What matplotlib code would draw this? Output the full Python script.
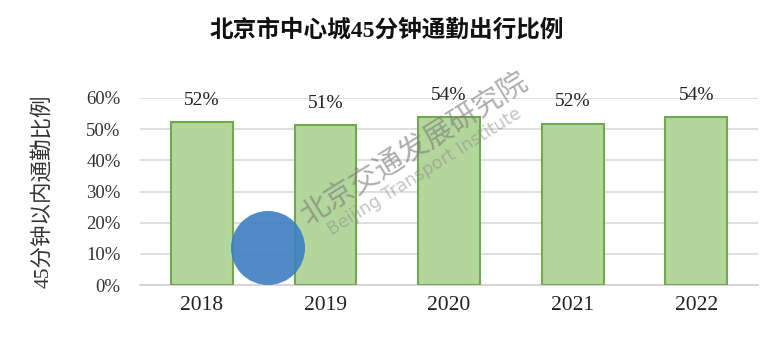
import numpy as np
import matplotlib.pyplot as plt
from matplotlib.patches import Ellipse

years = ['2018', '2019', '2020', '2021', '2022']
shares = [52.2, 51.3, 53.8, 51.8, 53.9]
labels = ['52%', '51%', '54%', '52%', '54%']
yticks = [0, 10, 20, 30, 40, 50, 60]

serif = ['Liberation Serif', 'Noto Sans CJK SC']
plt.rcParams['font.family'] = serif

fig = plt.figure(figsize=(7.74, 3.49), dpi=100)
ax = fig.add_axes([140/774, 1-285/349, 618/774, 187/349])

x = np.arange(len(years))
ax.bar(x, shares, width=0.5, color='#b3d69c', edgecolor='#72a94f', linewidth=1.5, zorder=3)
for xi, h, t in zip(x, shares, labels):
    ax.text(xi, h + 7, t, ha='center', va='center', fontsize=14, color='#222222', zorder=4)

ax.set_xlim(-0.5, len(years) - 0.5)
ax.set_ylim(0, 60)
ax.set_yticks(yticks)
ax.set_yticklabels([f'{v}%' for v in yticks], fontsize=13.5, color='#333333')
ax.set_xticks(x)
ax.set_xticklabels(years, fontsize=15.5, color='#222222')
ax.tick_params(length=0, pad=8)
ax.tick_params(axis='y', pad=14)
ax.grid(axis='y', color='#d9d9d9', linewidth=1.2, zorder=0)
for s in ['top', 'right', 'left']:
    ax.spines[s].set_visible(False)
ax.spines['bottom'].set_color('#d0d0d0')
ax.spines['bottom'].set_linewidth(1.2)

ax.set_ylabel('45分钟以内通勤比例', fontsize=15.5, color='#333333', labelpad=24)
fig.text(0.5, 1-30/349, '北京市中心城45分钟通勤出行比例', ha='center', va='center',
         fontsize=17, fontweight='bold', color='#111111')

# watermark
fig.text(415/774, 1-150/349, '北京交通发展研究院', rotation=32, ha='center', va='center',
         fontsize=21, color='#7a7a7a', alpha=0.6, zorder=10)
fig.text(425/774, 1-172/349, 'Beijing Transport Institute', rotation=32, ha='center', va='center',
         fontsize=12.5, color='#8a8a8a', alpha=0.5, family='DejaVu Sans', zorder=10)
fig.patches.append(Ellipse((268/774, 1-248/349), 74/774, 74/349, transform=fig.transFigure,
                           facecolor='#3d7fc1', edgecolor='none', alpha=0.9, zorder=10))

fig.savefig('out.png', dpi=100)
